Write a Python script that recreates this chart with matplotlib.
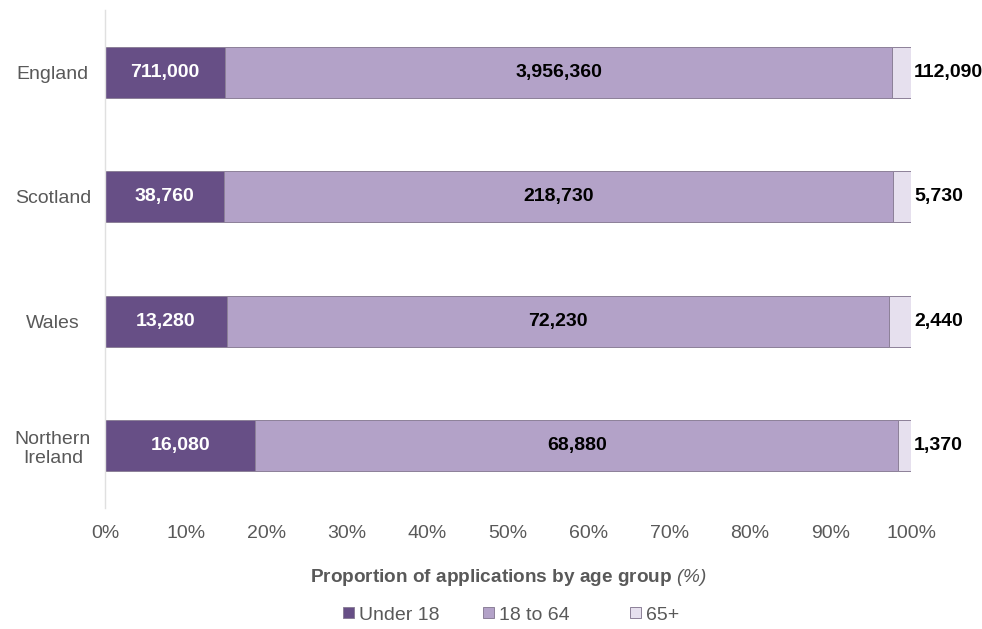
import matplotlib
matplotlib.use("Agg")
import matplotlib.pyplot as plt
import numpy as np

plt.rcParams['font.family'] = ['Liberation Sans', 'DejaVu Sans']
plt.rcParams['mathtext.fontset'] = 'custom'
plt.rcParams['mathtext.it'] = 'Liberation Sans:italic'
plt.rcParams['mathtext.rm'] = 'Liberation Sans:italic'

countries = ["England", "Scotland", "Wales", "Northern\nIreland"]
under18 = [711000, 38760, 13280, 16080]
age18_64 = [3956360, 218730, 72230, 68880]
over65 = [112090, 5730, 2440, 1370]
series_names = ["Under 18", "18 to 64", "65+"]
colors = ["#674f86", "#b3a2c8", "#e6e0ee"]
xticks = [0, 10, 20, 30, 40, 50, 60, 70, 80, 90, 100]

fig = plt.figure(figsize=(9.82, 6.29), dpi=100)
ax = fig.add_axes([105/982, 1-508/629, (911-105)/982, 498/629])

data = np.array([under18, age18_64, over65], dtype=float)
totals = data.sum(axis=0)
pct = data / totals * 100
y = np.arange(len(countries))
left = np.zeros(len(countries))
bars = []
FS = 14
for i in range(3):
    b = ax.barh(y, pct[i], left=left, height=0.41, color=colors[i],
                edgecolor="#8c8098", linewidth=0.7, label=series_names[i])
    bars.append(b)
    for j in range(len(countries)):
        val = data[i, j]
        txt = f"{int(val):,}"
        if i == 0:
            ax.text(left[j] + pct[i][j]/2, y[j], txt, ha="center", va="center",
                    color="white", fontweight="bold", fontsize=FS)
        elif i == 1:
            ax.text(left[j] + pct[i][j]/2, y[j], txt, ha="center", va="center",
                    color="black", fontweight="bold", fontsize=FS)
        else:
            ax.text(100.4, y[j], txt, ha="left", va="center",
                    color="black", fontweight="bold", fontsize=FS)
    left = left + pct[i]

ax.set_xlim(0, 100)
ax.set_ylim(3.5, -0.5)
ax.set_yticks(y)
ax.set_yticklabels(countries, fontsize=FS, color="#595959", ha="center",
                   multialignment="center")
ax.set_xticks(xticks)
ax.set_xticklabels([f"{t}%" for t in xticks], fontsize=FS, color="#595959")
ax.tick_params(axis="both", length=0)
ax.tick_params(axis="x", pad=12)
ax.tick_params(axis="y", pad=37.5)
for s in ["top", "right", "bottom"]:
    ax.spines[s].set_visible(False)
ax.spines["left"].set_color("#e0e0e0")
ax.spines["left"].set_linewidth(1)

ax.set_xlabel(r"Proportion of applications by age group $(\%)$", fontsize=13.7,
              fontweight="bold", color="#595959", labelpad=18)

legend_x = [343, 483, 630]
for b, name, lx in zip(bars, series_names, legend_x):
    fig.legend(handles=[b], labels=[name], loc="center left",
               bbox_to_anchor=(lx/982, 1-615/629), frameon=False, fontsize=FS,
               handlelength=0.55, handleheight=0.55, handletextpad=0.25,
               borderpad=0, borderaxespad=0, labelcolor="#595959")

fig.savefig("out.png", dpi=100)
